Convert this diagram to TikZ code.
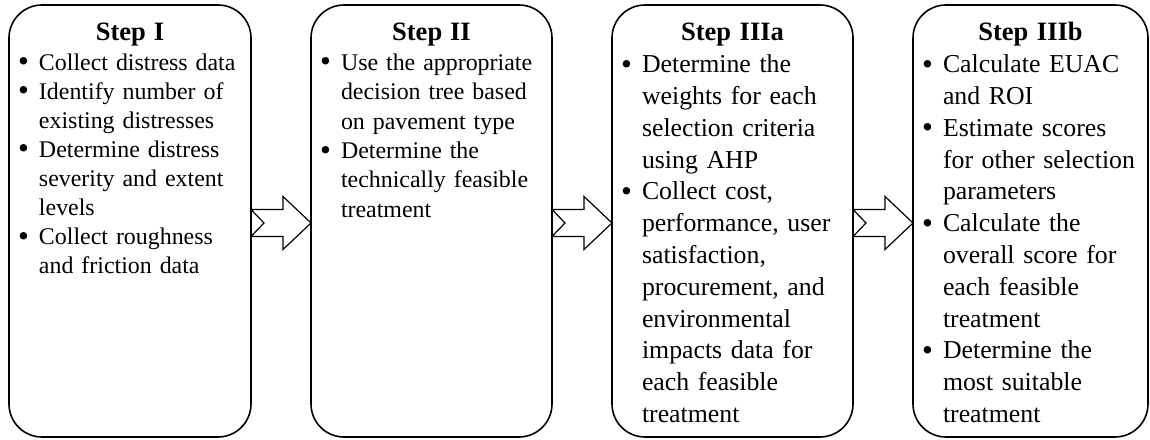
\documentclass[tikz,border=0pt]{standalone}
\usepackage{fontspec}
\setmainfont{Liberation Serif}
\usetikzlibrary{calc}

\tikzset{
  stepbox/.style={draw, line width=1.6pt, rounded corners=33pt, anchor=north west,
                  inner sep=0pt, outer sep=0pt},
  steptext/.style={anchor=north west, inner sep=0pt, outer sep=0pt},
  blockarrow/.style={draw, line width=1.2pt, fill=white, line join=miter},
}

% enlarged round bullet
\newcommand\bulletmark{\raisebox{-1.5pt}{\fontsize{31}{31}\selectfont\textbullet}}
% bullet item with the mark hanging left of the text margin
\newcommand\bitem{\par\noindent\llap{\bulletmark\hspace{10pt}}}
% #1 heading, #2 bullet list
\newcommand\stepbody[2]{%
  {\centering\fontsize{26.5}{30}\selectfont\bfseries\rule{0pt}{20pt}#1\par}%
  \raggedright\leftskip=30pt\relax #2\par}

% hollow block arrow with notched tail, from the east side of #1 to the west side of #2
\newcommand\flowarrow[2]{%
  \draw[blockarrow] let \p1=(#1.east), \p2=(#2.west) in
    (\x1,\y1+11.5) -- (\x2-28,\y1+11.5) -- (\x2-28,\y1+24.5) -- (\x2,\y1-2)
    -- (\x2-28,\y1-28.5) -- (\x2-28,\y1-15.5) -- (\x1,\y1-15.5) -- (\x1+13,\y1-2) -- cycle;}

\begin{document}
\begin{tikzpicture}[x=1pt,y=1pt]
\useasboundingbox (0,0) rectangle (1150,439);

% step boxes
\node[stepbox, minimum width=242pt, minimum height=432pt] (b1) at (9,434) {};
\node[stepbox, minimum width=241pt, minimum height=432pt] (b2) at (311,434) {};
\node[stepbox, minimum width=241pt, minimum height=432pt] (b3) at (612,434) {};
\node[stepbox, minimum width=235pt, minimum height=432pt] (b4) at (913,434) {};

% box contents
\node[steptext, text width=242pt, font=\fontsize{23.9}{29.1}\selectfont] (t1)
  at ($(b1.north west)+(0,-16)$) {\stepbody{Step I}{%
  \bitem Collect distress data
  \bitem Identify number of\\existing distresses
  \bitem Determine distress\\severity and extent\\levels
  \bitem Collect roughness\\and friction data}};

\node[steptext, text width=241pt, font=\fontsize{23.9}{29.4}\selectfont] (t2)
  at ($(b2.north west)+(0,-16)$) {\stepbody{Step II}{%
  \bitem Use the appropriate\\decision tree based\\on pavement type
  \bitem Determine the\\technically feasible\\treatment}};

\node[steptext, text width=241pt, font=\fontsize{25.8}{31.8}\selectfont] (t3)
  at ($(b3.north west)+(0,-16)$) {\stepbody{Step IIIa}{%
  \bitem Determine the\\weights for each\\selection criteria\\using AHP
  \bitem Collect cost,\\performance, user\\satisfaction,\\procurement, and\\environmental\\impacts data for\\each feasible\\treatment}};

\node[steptext, text width=235pt, font=\fontsize{25.8}{31.8}\selectfont] (t4)
  at ($(b4.north west)+(0,-16)$) {\stepbody{Step IIIb}{%
  \bitem Calculate EUAC\\and ROI
  \bitem Estimate scores\\for other selection\\parameters
  \bitem Calculate the\\overall score for\\each feasible\\treatment
  \bitem Determine the\\most suitable\\treatment}};

% arrows between steps
\flowarrow{b1}{b2}
\flowarrow{b2}{b3}
\flowarrow{b3}{b4}
\end{tikzpicture}
\end{document}
